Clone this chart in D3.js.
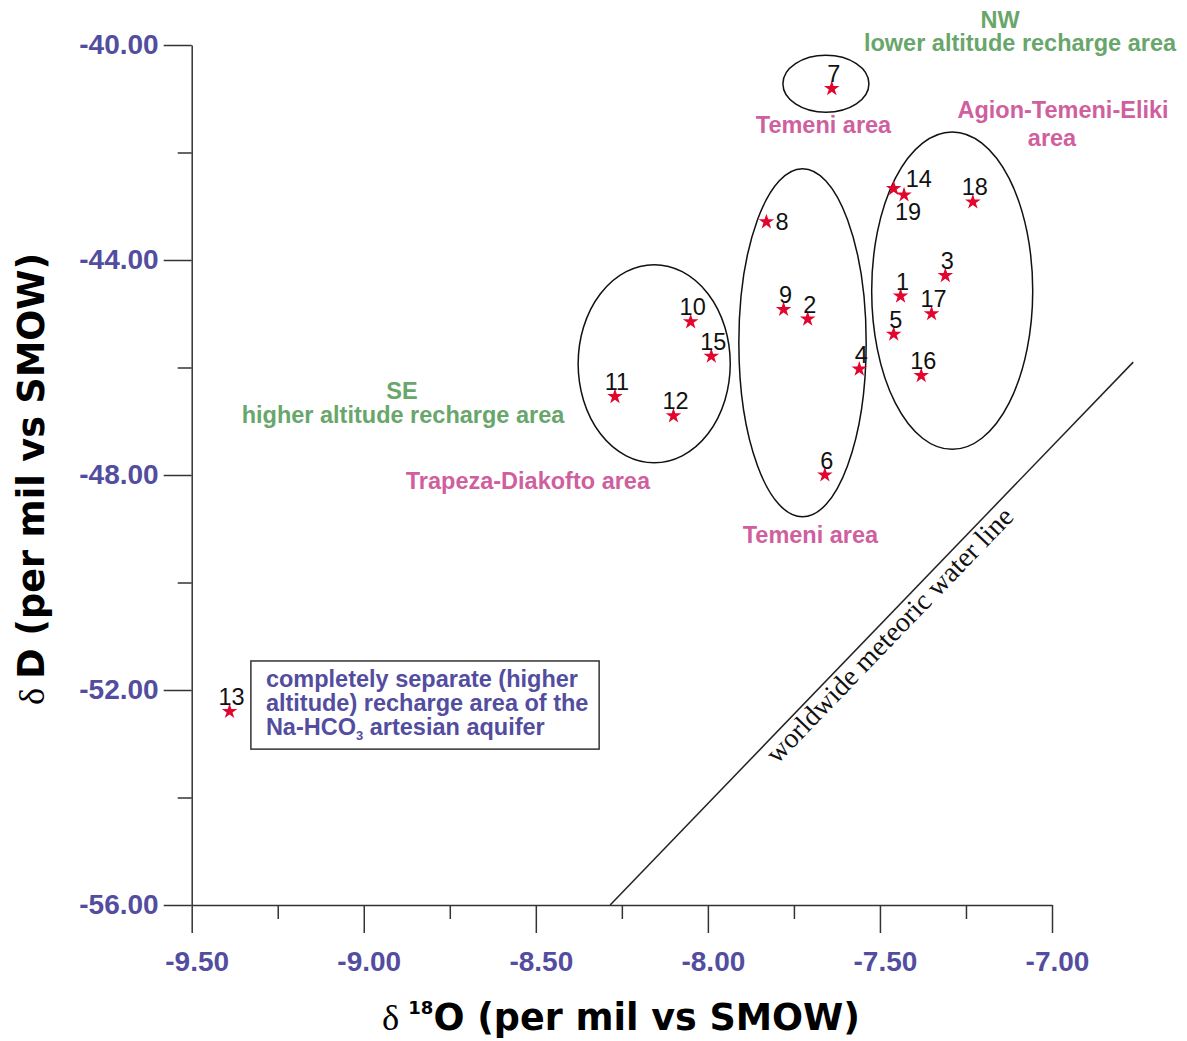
<!DOCTYPE html>
<html>
<head>
<meta charset="utf-8">
<script src="https://cdn.jsdelivr.net/npm/d3@7"></script>
<style>
  body { margin: 0; background: #fff; }
  svg { display: block; }
</style>
</head>
<body>
<svg id="chart" width="1187" height="1041"></svg>
<script>
// samples: delta 18O and delta D (per mil vs SMOW)
const sampleIds = [1, 2, 3, 4, 5, 6, 7, 8, 9, 10, 11, 12, 13, 14, 15, 16, 17, 18, 19];
const d18O = [-7.44, -7.71, -7.31, -7.56, -7.46, -7.66, -7.64, -7.83, -7.78, -8.05,
              -8.27, -8.10, -9.39, -7.46, -7.99, -7.38, -7.35, -7.23, -7.43];
const dD   = [-44.67, -45.10, -44.29, -46.03, -45.38, -48.00, -40.81, -43.29, -44.92, -45.15,
              -46.54, -46.90, -52.40, -42.67, -45.79, -46.15, -45.00, -42.92, -42.79];
// where the number sits relative to its star (default is above)
const labelPlace = { 8: "right", 14: "upright", 19: "below" };

const xTicks = [-9.5, -9.0, -8.5, -8.0, -7.5, -7.0];
const xMinor = [-9.25, -8.75, -8.25, -7.75, -7.25];
const yTicks = [-40, -44, -48, -52, -56];
const yMinor = [-42, -46, -50, -54];

// worldwide meteoric water line, as drawn
const mwlO = [-8.284, -6.764];
const mwlD = [-56.0, -45.9];

// grouping ellipses (centre and half axes, data units)
const groupCx = [-7.657, -8.156, -7.725, -7.290];
const groupCy = [-40.72, -45.93, -45.54, -44.57];
const groupRx = [0.125, 0.221, 0.185, 0.234];
const groupRy = [0.53, 1.842, 3.237, 2.953];

// annotations
const noteText = ["NW", "lower altitude recharge area", "Temeni area", "Agion-Temeni-Eliki", "area",
                  "SE", "higher altitude recharge area", "Trapeza-Diakofto area", "Temeni area"];
const noteKind = ["alt", "alt", "area", "area", "area", "alt", "alt", "area", "area"];
const noteO = [-7.151, -7.093, -7.664, -6.968, -7.000, -8.889, -8.886, -8.523, -7.702];
const noteD = [-39.68, -40.12, -41.63, -41.36, -41.88, -46.59, -47.03, -48.26, -49.27];

const boxO = [-9.328, -8.316];
const boxD = [-51.46, -53.10];

const blue = "#534da0", green = "#68a66b", pink = "#cf5f9e", red = "#e2062f";
const sans = "'Liberation Sans', Arial, sans-serif";

const svg = d3.select("#chart");

const x = d3.scaleLinear().domain([-9.5, -7.0]).range([191.7, 1052]);
const y = d3.scaleLinear().domain([-56, -40]).range([905, 45]);

const fmt = d => d.toFixed(2);

// axes
const gx = svg.append("g").attr("transform", `translate(0,${y(-56)})`)
  .call(d3.axisBottom(x).tickValues(xTicks).tickSize(28).tickSizeOuter(0).tickPadding(18).tickFormat(fmt));
const gxm = svg.append("g").attr("transform", `translate(0,${y(-56)})`)
  .call(d3.axisBottom(x).tickValues(xMinor).tickSize(14).tickFormat(""));
const gy = svg.append("g").attr("transform", `translate(${x(-9.5)},0)`)
  .call(d3.axisLeft(y).tickValues(yTicks).tickSize(28).tickSizeOuter(0).tickPadding(5).tickFormat(fmt));
const gym = svg.append("g").attr("transform", `translate(${x(-9.5)},0)`)
  .call(d3.axisLeft(y).tickValues(yMinor).tickSize(14).tickFormat(""));

gxm.select(".domain").remove();
gym.select(".domain").remove();

[gx, gxm, gy, gym].forEach(g => {
  g.selectAll("path, line").attr("stroke", "#333").attr("stroke-width", 1.5);
  g.selectAll("text")
    .attr("fill", blue)
    .style("font-family", sans)
    .style("font-weight", "bold")
    .style("font-size", "28px");
});
gx.selectAll("text").attr("dx", 5);

// meteoric water line
const p0 = [x(mwlO[0]), y(mwlD[0])];
const p1 = [x(mwlO[1]), y(mwlD[1])];
svg.append("line")
  .attr("x1", p0[0]).attr("y1", p0[1]).attr("x2", p1[0]).attr("y2", p1[1])
  .attr("stroke", "#222").attr("stroke-width", 1.5);

const len = Math.hypot(p1[0] - p0[0], p1[1] - p0[1]);
const ux = (p1[0] - p0[0]) / len, uy = (p1[1] - p0[1]) / len;
const ang = Math.atan2(uy, ux) * 180 / Math.PI;
const mt = 0.515, off = 23;
const mx = p0[0] + (p1[0] - p0[0]) * mt - uy * off;
const my = p0[1] + (p1[1] - p0[1]) * mt + ux * off;
svg.append("text")
  .attr("transform", `translate(${mx},${my}) rotate(${ang})`)
  .attr("text-anchor", "middle")
  .style("font-family", "'Liberation Serif', 'Times New Roman', serif")
  .style("font-size", "28px")
  .attr("fill", "#111")
  .text("worldwide meteoric water line");

// ellipses
svg.append("g").selectAll("ellipse").data(groupCx)
  .enter().append("ellipse")
    .attr("cx", (d, i) => x(d))
    .attr("cy", (d, i) => y(groupCy[i]))
    .attr("rx", (d, i) => x(d + groupRx[i]) - x(d))
    .attr("ry", (d, i) => y(groupCy[i] - groupRy[i]) - y(groupCy[i]))
    .attr("fill", "none")
    .attr("stroke", "#111")
    .attr("stroke-width", 1.5);

// stars
const star = d3.symbol(d3.symbolStar).size(75);
svg.append("g").selectAll("path").data(sampleIds)
  .enter().append("path")
    .attr("d", star)
    .attr("transform", (d, i) => `translate(${x(d18O[i])},${y(dD[i])})`)
    .attr("fill", red);

// sample numbers
svg.append("g").selectAll("text").data(sampleIds)
  .enter().append("text")
    .text(d => d)
    .attr("x", (d, i) => {
      const p = labelPlace[d];
      if (p === "right") return x(d18O[i]) + 9;
      if (p === "upright") return x(d18O[i]) + 12;
      if (p === "below") return x(d18O[i]) + 4;
      return x(d18O[i]) + 2;
    })
    .attr("y", (d, i) => {
      const p = labelPlace[d];
      if (p === "right") return y(dD[i]) + 8;
      if (p === "upright") return y(dD[i]) - 2;
      if (p === "below") return y(dD[i]) + 25;
      return y(dD[i]) - 6.5;
    })
    .attr("text-anchor", d => (labelPlace[d] === "right" || labelPlace[d] === "upright") ? "start" : "middle")
    .style("font-family", sans)
    .style("font-size", "23.5px")
    .attr("fill", "#111");

// area annotations
svg.append("g").selectAll("text").data(noteText)
  .enter().append("text")
    .text(d => d)
    .attr("x", (d, i) => x(noteO[i]))
    .attr("y", (d, i) => y(noteD[i]))
    .attr("text-anchor", "middle")
    .attr("fill", (d, i) => noteKind[i] === "alt" ? green : pink)
    .style("font-family", sans)
    .style("font-weight", "bold")
    .style("font-size", "23.5px");

// boxed note for sample 13
const bx = x(boxO[0]), by = y(boxD[0]);
svg.append("rect")
  .attr("x", bx).attr("y", by)
  .attr("width", x(boxO[1]) - bx).attr("height", y(boxD[1]) - by)
  .attr("fill", "none").attr("stroke", "#333").attr("stroke-width", 1.5);

const boxText = svg.append("text")
  .attr("fill", blue)
  .style("font-family", sans)
  .style("font-weight", "bold")
  .style("font-size", "23.5px");
boxText.append("tspan").attr("x", bx + 15).attr("y", by + 26).text("completely separate (higher");
boxText.append("tspan").attr("x", bx + 15).attr("y", by + 50).text("altitude) recharge area of the");
boxText.append("tspan").attr("x", bx + 15).attr("y", by + 74).text("Na-HCO");
boxText.append("tspan").attr("dy", 5).style("font-size", "13px").text("3");
boxText.append("tspan").attr("dy", -5).text(" artesian aquifer");

// axis titles
const xt = svg.append("text")
  .attr("x", 382).attr("y", 1030)
  .attr("fill", "#000")
  .style("font-family", "'DejaVu Sans', Verdana, sans-serif")
  .style("font-weight", "bold")
  .style("font-size", "36.5px");
xt.append("tspan").style("font-family", "'Liberation Serif', serif").style("font-weight", "normal").text("δ ");
xt.append("tspan").style("font-size", "18px").attr("dy", -16).text("18");
xt.append("tspan").attr("dy", 16).text("O (per mil vs SMOW)");

const yt = svg.append("text")
  .attr("transform", "translate(44,705) rotate(-90)")
  .attr("fill", "#000")
  .style("font-family", "'DejaVu Sans', Verdana, sans-serif")
  .style("font-weight", "bold")
  .style("font-size", "36.5px");
yt.append("tspan").style("font-family", "'Liberation Serif', serif").style("font-weight", "normal").text("δ ");
yt.append("tspan").text("D (per mil vs SMOW)");
</script>
</body>
</html>
